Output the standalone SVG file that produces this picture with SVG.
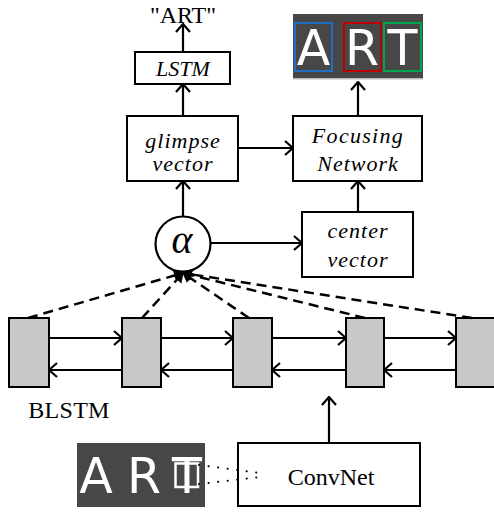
<svg xmlns="http://www.w3.org/2000/svg" width="494" height="513" viewBox="0 0 494 513">
<defs>
<marker id="arr" viewBox="0 0 10 16" markerWidth="10" markerHeight="16" refX="9" refY="8" orient="auto" markerUnits="userSpaceOnUse">
<path d="M1,1 L9,8 L1,15" fill="none" stroke="#000" stroke-width="2.2"/>
</marker>
<marker id="arrs" viewBox="0 0 10 12" markerWidth="10" markerHeight="12" refX="9" refY="6" orient="auto" markerUnits="userSpaceOnUse">
<path d="M0,0 L10,6 L0,12 Z" fill="#000"/>
</marker>
</defs>
<style>
.box{fill:#fff;stroke:#000;stroke-width:2}
.cell{fill:#c8c8c8;stroke:#000;stroke-width:2}
.it{font-family:"Liberation Serif","Times New Roman",serif;font-style:italic;font-size:22px;fill:#000;text-anchor:middle;letter-spacing:1px}
.rm{font-family:"Liberation Serif","Times New Roman",serif;font-size:24px;fill:#000;text-anchor:middle}
.ln{fill:none;stroke:#000;stroke-width:2.2;marker-end:url(#arr)}
.dash{fill:none;stroke:#000;stroke-width:2.5;stroke-dasharray:10 6;marker-end:url(#arrs)}
.dot{fill:none;stroke:#000;stroke-width:2;stroke-dasharray:0.1 9.5;stroke-linecap:round}
.img{fill:#474747}
.lt{font-family:"DejaVu Sans",sans-serif;font-size:49px;fill:#fff;text-anchor:middle}
</style>
<g id="output-text"><text class="rm" x="183" y="23">"ART"</text></g>
<g id="lstm"><rect class="box" x="135" y="52" width="95" height="32"/><text class="it" x="183" y="76" style="letter-spacing:0">LSTM</text></g>
<g id="glimpse"><rect class="box" x="127" y="116" width="111" height="65"/><text class="it" x="183" y="148">glimpse</text><text class="it" x="183" y="171">vector</text></g>
<g id="focusing"><rect class="box" x="293" y="116" width="129" height="65"/><text class="it" x="358" y="143" style="letter-spacing:1.3px">Focusing</text><text class="it" x="358" y="171">Network</text></g>
<g id="center"><rect class="box" x="302" y="212" width="111" height="65"/><text class="it" x="358" y="238">center</text><text class="it" x="358" y="267">vector</text></g>
<g id="alpha"><circle cx="183" cy="244" r="27.5" fill="#fff" stroke="#000" stroke-width="2.2"/><text x="182" y="253" style="font-family:'Liberation Serif',serif;font-style:italic;font-size:40px;text-anchor:middle">α</text></g>
<g id="art-top">
<rect class="img" x="293" y="14" width="130" height="65"/>
<rect x="293" y="78" width="130" height="1.5" fill="#bbb"/>
<text class="lt" x="313.5" y="65">A</text>
<text class="lt" x="362" y="65">R</text>
<text class="lt" x="402.5" y="65">T</text>
<rect x="295" y="23" width="37" height="48" fill="none" stroke="#1f6fc0" stroke-width="2"/>
<rect x="344" y="23" width="37" height="48" fill="none" stroke="#c00000" stroke-width="2"/>
<rect x="384" y="23" width="37" height="48" fill="none" stroke="#00a550" stroke-width="2"/>
</g>
<g id="blstm">
<rect class="cell" x="9" y="318" width="40" height="69"/>
<rect class="cell" x="122" y="318" width="39" height="69"/>
<rect class="cell" x="233" y="318" width="39" height="69"/>
<rect class="cell" x="346" y="318" width="38" height="69"/>
<rect class="cell" x="456" y="318" width="40" height="69"/>
<text class="rm" x="69" y="418" style="letter-spacing:0.3px">BLSTM</text>
</g>
<g id="art-bottom">
<rect class="img" x="77" y="443" width="128" height="64"/>
<text class="lt" x="96" y="493">A</text>
<text class="lt" x="144" y="493">R</text>
<text class="lt" x="187" y="493">T</text>
<rect x="175.5" y="463.5" width="22.5" height="23.5" fill="none" stroke="#fff" stroke-width="2.5"/>
</g>
<g id="convnet"><rect class="box" x="238" y="443" width="182" height="63"/><text class="rm" x="331" y="485">ConvNet</text></g>
<g id="connectors">
<path class="ln" d="M183,52 V24"/>
<path class="ln" d="M183,116 V84"/>
<path class="ln" d="M183,217 V181"/>
<path class="ln" d="M238,148 H293"/>
<path class="ln" d="M210,243 H302"/>
<path class="ln" d="M358,212 V181"/>
<path class="ln" d="M358,116 V82"/>
<path class="ln" d="M329,443 V397"/>
<path class="ln" d="M49,338 H122"/>
<path class="ln" d="M161,338 H233"/>
<path class="ln" d="M272,338 H346"/>
<path class="ln" d="M384,338 H456"/>
<path class="ln" d="M122,370 H49"/>
<path class="ln" d="M233,370 H161"/>
<path class="ln" d="M346,370 H272"/>
<path class="ln" d="M456,370 H384"/>
<path class="dash" d="M28,318 L183,273"/>
<path class="dash" d="M142,318 L183,273"/>
<path class="dash" d="M249,318 L183,273"/>
<path class="dash" d="M365,318 L183,273"/>
<path class="dash" d="M472,318 L183,273"/>
<path class="dot" d="M199,465 L260,473"/>
<path class="dot" d="M199,484 L260,477"/>
</g>
</svg>
